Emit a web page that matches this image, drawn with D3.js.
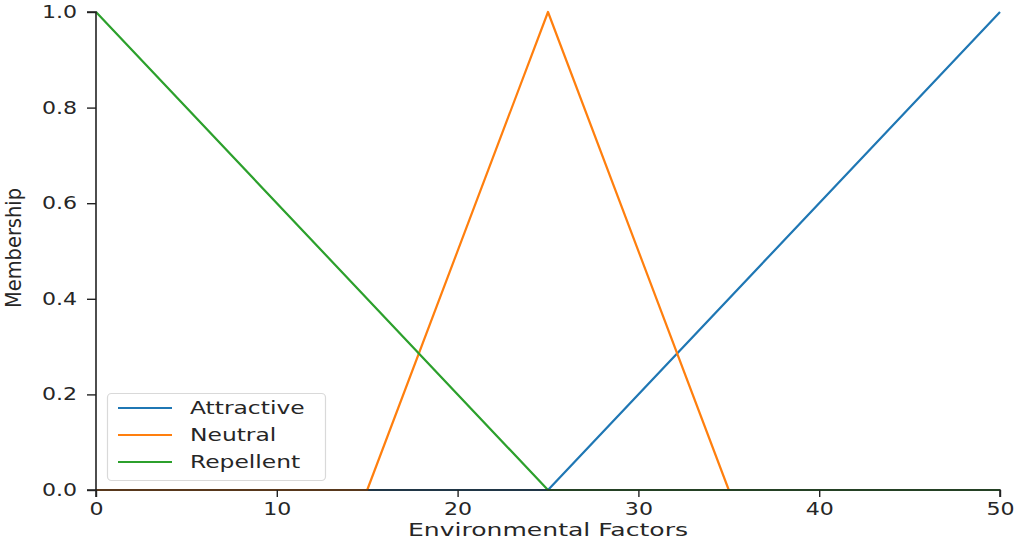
<!DOCTYPE html>
<html>
<head>
<meta charset="utf-8">
<script src="https://cdn.jsdelivr.net/npm/d3@7"></script>
<style>
  html, body { margin: 0; padding: 0; background: #fff; }
  svg { display: block; }
  text { font-family: "DejaVu Sans", sans-serif; fill: #262626; }
</style>
</head>
<body>
<svg id="chart" width="1017" height="546"></svg>
<script>
// Universe of discourse and membership breakpoints
const xDomain = [0, 50];
const xTicks = [0, 10, 20, 30, 40, 50];
const yTicks = [0.0, 0.2, 0.4, 0.6, 0.8, 1.0];
const seriesNames = ["Attractive", "Neutral", "Repellent"];
const seriesColors = ["#1f77b4", "#ff7f0e", "#2ca02c"];
const attractiveX = [0, 25, 50];
const attractiveY = [0, 0, 1];
const neutralX = [0, 15, 25, 35, 50];
const neutralY = [0, 0, 1, 0, 0];
const repellentX = [0, 25, 50];
const repellentY = [1, 0, 0];

const seriesX = [attractiveX, neutralX, repellentX];
const seriesY = [attractiveY, neutralY, repellentY];

const stretch = 1.3; // wide glyphs
const svg = d3.select("#chart");
const plotLeft = 96, plotRight = 1000, plotTop = 12, plotBottom = 490;

const x = d3.scaleLinear().domain(xDomain).range([plotLeft, plotRight]);
const y = d3.scaleLinear().domain([0, 1]).range([plotBottom, plotTop]);

const line = d3.line().x(d => x(d[0])).y(d => y(d[1]));

// membership curves
seriesNames.forEach((name, i) => {
  const pts = seriesX[i].map((v, j) => [v, seriesY[i][j]]);
  svg.append("path")
    .datum(pts)
    .attr("fill", "none")
    .attr("stroke", seriesColors[i])
    .attr("stroke-width", 2.2)
    .attr("stroke-linejoin", "round")
    .attr("d", line);
});

// axes
const xAxis = svg.append("g")
  .attr("transform", `translate(0,${plotBottom})`)
  .call(d3.axisBottom(x).tickValues(xTicks).tickFormat(d3.format("d")).tickSize(7).tickPadding(6));
const yAxis = svg.append("g")
  .attr("transform", `translate(${plotLeft},0)`)
  .call(d3.axisLeft(y).tickValues(yTicks).tickFormat(d3.format(".1f")).tickSize(9).tickPadding(8));

[xAxis, yAxis].forEach(g => {
  g.select(".domain").attr("stroke", "#222").attr("stroke-width", 1.6);
  g.selectAll(".tick line").attr("stroke", "#222").attr("stroke-width", 1.4);
  g.selectAll(".tick text")
    .attr("font-size", 17)
    .attr("font-family", "DejaVu Sans, sans-serif")
    .attr("fill", "#262626");
});
xAxis.selectAll(".tick text").attr("transform", `scale(${stretch},1)`);
yAxis.selectAll(".tick text")
  .attr("x", -(9 + 10) / stretch)
  .attr("transform", `scale(${stretch},1)`);
// the domain path ends exactly at the outermost ticks
xAxis.select(".domain").attr("d", `M${plotLeft},7V0H${plotRight}V7`);
yAxis.select(".domain").attr("d", `M-9,${plotBottom}H0V${plotTop}H-9`);

// axis titles
svg.append("text")
  .attr("x", (plotLeft + plotRight) / 2)
  .attr("y", 536)
  .attr("text-anchor", "middle")
  .attr("font-size", 17)
  .attr("textLength", 280)
  .attr("lengthAdjust", "spacingAndGlyphs")
  .text("Environmental Factors");

svg.append("text")
  .attr("transform", "translate(21,248) rotate(-90)")
  .attr("text-anchor", "middle")
  .attr("font-family", "Open Sans, sans-serif")
  .attr("font-size", 21)
  .attr("textLength", 120)
  .attr("lengthAdjust", "spacingAndGlyphs")
  .text("Membership");

// legend
const legend = svg.append("g");
legend.append("rect")
  .attr("x", 107.5).attr("y", 393.5)
  .attr("width", 218).attr("height", 87)
  .attr("rx", 4)
  .attr("fill", "#fff").attr("fill-opacity", 0.8)
  .attr("stroke", "#d9d9d9").attr("stroke-width", 1.2);
seriesNames.forEach((name, i) => {
  const cy = 408 + i * 27;
  legend.append("line")
    .attr("x1", 118).attr("x2", 172)
    .attr("y1", cy).attr("y2", cy)
    .attr("stroke", seriesColors[i]).attr("stroke-width", 2.2);
  legend.append("text")
    .attr("x", 190 / stretch).attr("y", cy)
    .attr("dy", "0.36em")
    .attr("font-size", 18)
    .attr("transform", `scale(${stretch},1)`)
    .text(name);
});
</script>
</body>
</html>
